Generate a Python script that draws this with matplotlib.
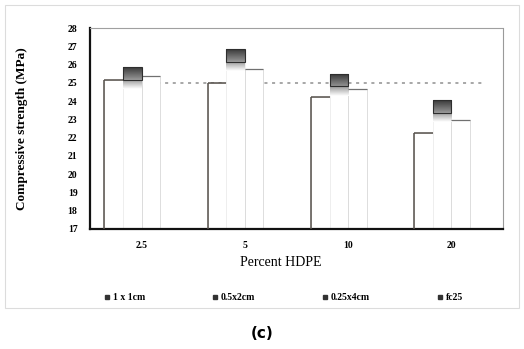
import matplotlib
matplotlib.use('Agg')
import matplotlib.pyplot as plt
import numpy as np
from matplotlib.lines import Line2D
from matplotlib.patches import Rectangle
from matplotlib.colors import LinearSegmentedColormap

# data
hdpe = ['2.5', '5', '10', '20']
s_1x1 = [25.15, 24.97, 24.22, 22.25]
s_05x2 = [25.85, 26.85, 25.5, 24.05]
s_025x4 = [25.4, 25.75, 24.65, 22.95]
fc25 = 25.0
legend_labels = ['1 x 1cm', '0.5x2cm', '0.25x4cm', 'fc25']

serif = 'Liberation Serif'
base = 17

fig = plt.figure(figsize=(5.24, 3.49), dpi=100)
ax = fig.add_axes([90/524, 1 - 229/349, 413/524, 201/349])

x = np.arange(len(hdpe))
w = 0.18

# fc25 reference line (dashed), sits behind the white bars
ax.hlines(fc25, x[0] - 2*w, x[-1] + 0.32, colors='#909090', linestyles=(0, (2, 3)),
          linewidth=1.1, zorder=1)

bars1 = ax.bar(x - 1.5*w, np.array(s_1x1) - base, w, bottom=base, color='white',
               edgecolor='#dddddd', linewidth=0.5, zorder=2)
bars2 = ax.bar(x - 0.5*w, np.array(s_05x2) - base, w, bottom=base, color='white',
               edgecolor='#ececec', linewidth=0.5, zorder=2)
bars3 = ax.bar(x + 0.5*w, np.array(s_025x4) - base, w, bottom=base, color='white',
               edgecolor='#d0d0d0', linewidth=0.5, zorder=2)
ax.bar(x + 1.5*w, np.full(len(x), fc25) - base, w, bottom=base, color='none',
       edgecolor='none', zorder=2)

# scanned look: 1x1cm bars show a dark left and top edge, 0.25x4 only a thin top
for b in bars1:
    top = b.get_y() + b.get_height()
    ax.vlines(b.get_x(), base, top, colors='#55504a', linewidth=1.1, zorder=4)
    ax.hlines(top, b.get_x(), b.get_x() + b.get_width(), colors='#55504a',
              linewidth=1.1, zorder=4)
for b in bars3:
    top = b.get_y() + b.get_height()
    ax.hlines(top, b.get_x(), b.get_x() + b.get_width(), colors='#707070',
              linewidth=0.9, zorder=4)

# dark-to-white gradient at the top of the 0.5x2cm bars
cmap = LinearSegmentedColormap.from_list('g', ['#3a3a3a', '#8a8a8a', '#ffffff'])
grad = np.linspace(0, 1, 64).reshape(-1, 1)
for b in bars2:
    top = b.get_y() + b.get_height()
    x0 = b.get_x()
    x1 = x0 + b.get_width()
    ax.imshow(grad, cmap=cmap, aspect='auto', extent=(x0, x1, top - 1.2, top),
              origin='upper', zorder=3, interpolation='bilinear')
    ax.add_patch(Rectangle((x0, top - 0.7), b.get_width(), 0.7, fill=False,
                           edgecolor='#2e2e2e', linewidth=0.8, zorder=4))

ax.set_xlim(-0.5, 3.5)
ax.set_ylim(17, 28)
ax.set_yticks(range(17, 29))
ax.set_xticks(x)
ax.set_xticklabels(hdpe)
ax.tick_params(axis='both', length=0, labelsize=7)
ax.tick_params(axis='y', pad=9)
ax.tick_params(axis='x', pad=9)
for lab in ax.get_xticklabels() + ax.get_yticklabels():
    lab.set_fontfamily(serif)
    lab.set_fontweight('bold')

ax.spines['left'].set_linewidth(1.6)
ax.spines['bottom'].set_linewidth(1.6)
ax.spines['left'].set_color('#111111')
ax.spines['bottom'].set_color('#111111')
ax.spines['top'].set_color('#a0a0a0')
ax.spines['top'].set_linestyle((0, (1, 1)))
ax.spines['top'].set_linewidth(0.8)
ax.spines['right'].set_color('#9a9a9a')
ax.spines['right'].set_linewidth(0.8)

ax.set_ylabel('Compressive strength (MPa)', fontfamily=serif, fontweight='bold',
              fontsize=9.5)
ax.yaxis.set_label_coords(-(90 - 22) / 413, 0.5)
ax.set_xlabel('Percent HDPE', fontfamily=serif, fontsize=10)
ax.xaxis.set_label_coords((281 - 90) / 413, -(262 - 229) / 201)
ax.xaxis.label.set_va('center')
ax.yaxis.label.set_va('center')

handles = [Line2D([], [], marker='s', linestyle='none', markersize=3.5,
                  color='#333333') for _ in legend_labels]
fig.legend(handles, legend_labels, loc='center', ncol=4, mode='expand',
           bbox_to_anchor=(0.18, 0.117, 0.72, 0.06), frameon=False,
           prop={'family': serif, 'weight': 'bold', 'size': 7},
           handletextpad=0.2, handlelength=0.8)

# outer chart frame of the scan
fig.patches.append(Rectangle((5/524, 1 - 308/349), 514/524, 303/349,
                             transform=fig.transFigure, fill=False,
                             edgecolor='#dcdcdc', linewidth=0.8))

fig.text(262/524, 1 - 333/349, '(c)', ha='center', va='center', fontsize=11,
         fontweight='bold')

fig.savefig('out.png', dpi=100)
